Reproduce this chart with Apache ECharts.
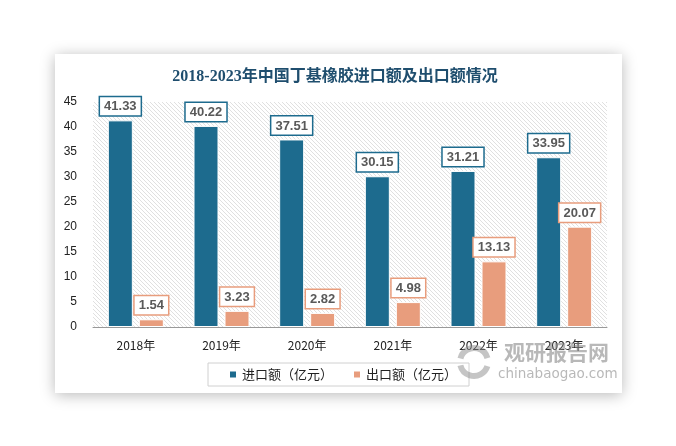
<!DOCTYPE html>
<html><head><meta charset="utf-8">
<script src="https://cdn.jsdelivr.net/npm/echarts@6/dist/echarts.min.js"></script>
<style>html,body{margin:0;padding:0;background:#fff;}#c{width:676px;height:446px;}</style>
</head><body><div id="c"></div>
<script>
var categories = ['2018年','2019年','2020年','2021年','2022年','2023年'];
var importValues = [41.33, 40.22, 37.51, 30.15, 31.21, 33.95];
var exportValues = [1.54, 3.23, 2.82, 4.98, 13.13, 20.07];
var seriesNames = ['进口额（亿元）','出口额（亿元）'];
var titleText = '2018-2023年中国丁基橡胶进口额及出口额情况';

var hatch = document.createElement('canvas');
hatch.width = 4; hatch.height = 4;
var hc = hatch.getContext('2d');
hc.fillStyle = '#ffffff'; hc.fillRect(0,0,4,4);
hc.strokeStyle = '#e0e0e0'; hc.lineWidth = 1;
hc.beginPath(); hc.moveTo(-1,-1); hc.lineTo(5,5); hc.moveTo(-1,3); hc.lineTo(1,5); hc.moveTo(3,-1); hc.lineTo(5,1); hc.stroke();

var blue = '#1d6b8e', orange = '#e89d7d';
var chart = echarts.init(document.getElementById('c'));
function lbl(color){
  return {show:true, position:'top', distance:5, color:'#595959', fontWeight:'bold', fontSize:13,
    fontFamily:'Liberation Sans, Arial, sans-serif', backgroundColor:'#fff', borderColor:color, borderWidth:1.5, padding:[3,4,2,4]};
}
chart.setOption({
  backgroundColor:'#fff',
  animation:false,
  graphic:[
    {type:'rect', z:-10, shape:{x:55,y:54,width:567,height:339}, style:{fill:'#fff', shadowBlur:14, shadowColor:'rgba(0,0,0,0.28)', shadowOffsetX:0, shadowOffsetY:2}},
    {type:'text', z:50, left:504, top:342, style:{text:'观研报告网', fill:'rgba(125,125,125,0.55)', font:'bold 21px "Noto Sans CJK SC"'}},
    {type:'text', z:50, left:498, top:367, style:{text:'chinabaogao.com', fill:'rgba(125,125,125,0.55)', font:'13.5px "DejaVu Sans"'}},
    {type:'arc', z:50, shape:{cx:474,cy:362,r:14,startAngle:0.3,endAngle:2.9}, style:{fill:'none', stroke:'rgba(140,140,140,0.5)', lineWidth:6}},
    {type:'arc', z:50, shape:{cx:474,cy:362,r:14,startAngle:3.4,endAngle:6.0}, style:{fill:'none', stroke:'rgba(140,140,140,0.5)', lineWidth:6}}
  ],
  title:{text:titleText, left:330, textAlign:'center', top:64,
    textStyle:{color:'#1f4e6e', fontSize:16, fontWeight:'bold', fontFamily:'"Liberation Serif", "Noto Sans CJK SC", serif'}},
  grid:{left:93, right:69, top:102, bottom:119, show:true, borderWidth:0, backgroundColor:{image:hatch, repeat:'repeat'}},
  legend:{bottom:60, left:208, itemWidth:8, itemHeight:8, itemGap:19, icon:'rect',
    borderColor:'#d0d0d0', borderWidth:1, padding:[5,12,5,20],
    textStyle:{color:'#222', fontSize:13, fontFamily:'"Noto Sans CJK SC", sans-serif'},
    data:seriesNames},
  xAxis:{type:'category', data:categories,
    axisLine:{lineStyle:{color:'#999'}}, axisTick:{show:false},
    axisLabel:{color:'#222', fontSize:12, margin:12, fontFamily:'"Noto Sans CJK SC", sans-serif'}},
  yAxis:{type:'value', min:0, max:45, interval:5,
    splitLine:{show:false}, axisLine:{show:false}, axisTick:{show:false},
    axisLabel:{color:'#222', fontSize:12, margin:16, fontFamily:'"Liberation Sans", sans-serif'}},
  series:[
    {name:seriesNames[0], type:'bar', data:importValues, barWidth:25, barGap:'24%',
      itemStyle:{color:blue, borderColor:'#fff', borderWidth:1}, label:lbl(blue)},
    {name:seriesNames[1], type:'bar', data:exportValues, barWidth:25,
      itemStyle:{color:orange, borderColor:'#fff', borderWidth:1}, label:lbl(orange)}
  ]
});
</script></body></html>
